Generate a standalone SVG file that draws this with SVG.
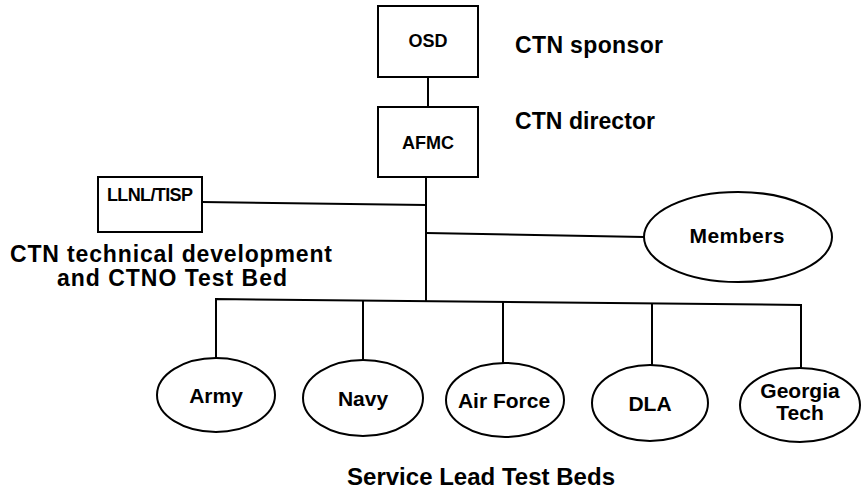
<svg xmlns="http://www.w3.org/2000/svg" width="865" height="494" viewBox="0 0 865 494">
<style>
.box{fill:#fff;stroke:#000;stroke-width:2}
.conn{stroke:#000;stroke-width:2;fill:none}
text{font-family:"Liberation Sans",Arial,sans-serif;font-weight:bold;fill:#000}
.lbl{font-size:21px;text-anchor:middle}
.cap{font-size:23px}
.sm{font-size:18px;text-anchor:middle}
</style>
<rect width="865" height="494" fill="#fff"/>
<g id="connectors">
<line class="conn" x1="428" y1="77" x2="428" y2="107"/>
<line class="conn" x1="426" y1="177" x2="426" y2="302"/>
<line class="conn" x1="202" y1="202" x2="426" y2="205"/>
<line class="conn" x1="426" y1="233" x2="644" y2="237"/>
<polyline class="conn" points="216,358 216,299 801,305 801,368"/>
<line class="conn" x1="363" y1="300" x2="363" y2="361"/>
<line class="conn" x1="503" y1="302" x2="503" y2="364"/>
<line class="conn" x1="652" y1="303" x2="652" y2="365"/>
</g>
<g id="osd">
<rect class="box" x="378" y="6" width="100" height="71"/>
<text class="sm" x="428" y="47">OSD</text>
</g>
<text class="cap" x="515" y="53" textLength="148">CTN sponsor</text>
<g id="afmc">
<rect class="box" x="378" y="107" width="100" height="70"/>
<text class="sm" x="428" y="149">AFMC</text>
</g>
<text class="cap" x="515" y="129" textLength="140">CTN director</text>
<g id="llnl">
<rect class="box" x="98" y="177" width="104" height="55"/>
<text class="sm" x="150" y="201" font-size="16" textLength="86">LLNL/TISP</text>
</g>
<text class="cap" x="10" y="262" font-size="21" textLength="322">CTN technical development</text>
<text class="cap" x="57" y="286" font-size="21" textLength="230">and CTNO Test Bed</text>
<g id="members">
<ellipse class="box" cx="738" cy="237" rx="94" ry="45"/>
<text class="lbl" x="737" y="243" textLength="95">Members</text>
</g>
<g id="army">
<ellipse class="box" cx="216" cy="395" rx="59" ry="37"/>
<text class="lbl" x="216" y="403">Army</text>
</g>
<g id="navy">
<ellipse class="box" cx="363" cy="398" rx="60" ry="38"/>
<text class="lbl" x="363" y="406">Navy</text>
</g>
<g id="airforce">
<ellipse class="box" cx="505" cy="400" rx="59" ry="37"/>
<text class="lbl" x="504" y="408">Air Force</text>
</g>
<g id="dla">
<ellipse class="box" cx="650" cy="403" rx="58" ry="38"/>
<text class="lbl" x="650" y="411">DLA</text>
</g>
<g id="georgiatech">
<ellipse class="box" cx="800" cy="405" rx="60" ry="37"/>
<text class="lbl" x="800" y="398" font-size="18">Georgia</text>
<text class="lbl" x="800" y="420" font-size="18">Tech</text>
</g>
<text x="481" y="485" font-size="24" text-anchor="middle" textLength="268">Service Lead Test Beds</text>
</svg>
